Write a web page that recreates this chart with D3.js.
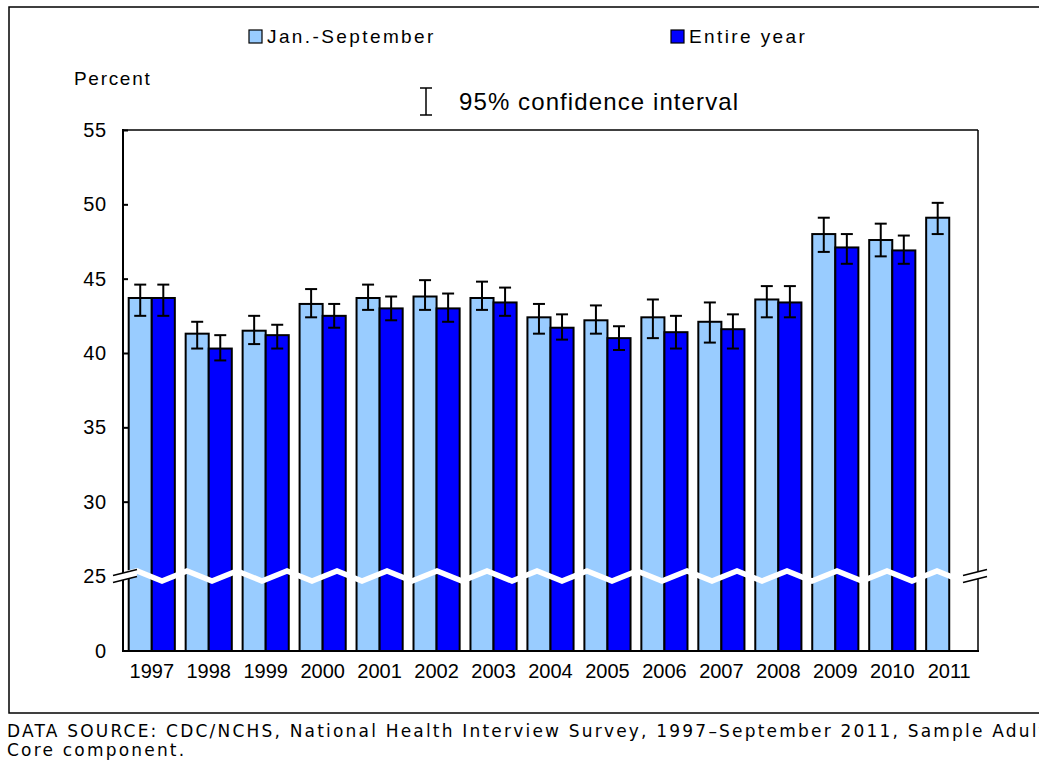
<!DOCTYPE html>
<html>
<head>
<meta charset="utf-8">
<script src="https://cdn.jsdelivr.net/npm/d3@7"></script>
<style>
  body { margin: 0; background: #fff; }
  text { font-family: "Liberation Sans", Arial, sans-serif; fill: #000; }
</style>
</head>
<body>
<div id="chart"></div>
<script>
// values
var years = ["1997","1998","1999","2000","2001","2002","2003","2004","2005","2006","2007","2008","2009","2010","2011"];
var janSep     = [43.7, 41.3, 41.5, 43.3, 43.7, 43.8, 43.7, 42.4, 42.2, 42.4, 42.1, 43.6, 48.0, 47.6, 49.1];
var janSepLo   = [42.5, 40.3, 40.6, 42.4, 42.9, 42.9, 42.9, 41.3, 41.3, 41.0, 40.7, 42.4, 46.8, 46.5, 48.0];
var janSepHi   = [44.6, 42.1, 42.5, 44.3, 44.6, 44.9, 44.8, 43.3, 43.2, 43.6, 43.4, 44.5, 49.1, 48.7, 50.1];
var fullYear   = [43.7, 40.3, 41.2, 42.5, 43.0, 43.0, 43.4, 41.7, 41.0, 41.4, 41.6, 43.4, 47.1, 46.9, null];
var fullYearLo = [42.5, 39.5, 40.3, 41.7, 42.2, 42.1, 42.5, 40.9, 40.2, 40.3, 40.3, 42.4, 46.0, 46.0, null];
var fullYearHi = [44.6, 41.2, 41.9, 43.3, 43.8, 44.0, 44.4, 42.6, 41.8, 42.5, 42.6, 44.5, 48.0, 47.9, null];
var yTicks = [0, 25, 30, 35, 40, 45, 50, 55];
var seriesNames = ["Jan.-September", "Entire year"];
var seriesColors = ["#99ccff", "#0000ff"];

var width = 1039, height = 763;
var pLeft = 123, pRight = 978, pTop = 130, pBottom = 651;

var svg = d3.select("#chart").append("svg").attr("width", width).attr("height", height);

// outer frame
svg.append("rect")
    .attr("x", 9).attr("y", 7)
    .attr("width", 1045).attr("height", 706)
    .style("fill", "none").style("stroke", "#000").style("stroke-width", 1.5);

// broken axis: 0..25 squeezed into one tick step
var y = d3.scaleLinear().domain([0, 25, 55]).range([pBottom, 576, pTop]);
var x = d3.scaleBand().domain(years).range([pLeft, pRight]).paddingInner(0.19).paddingOuter(0.1);
var xs = d3.scaleBand().domain([0, 1]).range([0, x.bandwidth()]);

var rows = years.map(function(yr, i) {
    return [
        {year: yr, s: 0, v: janSep[i], lo: janSepLo[i], hi: janSepHi[i]},
        {year: yr, s: 1, v: fullYear[i], lo: fullYearLo[i], hi: fullYearHi[i]}
    ];
});
var flat = d3.merge(rows).filter(function(d) { return d.v != null; });

var plot = svg.append("g").attr("class", "plot");

plot.selectAll("rect.bar")
    .data(flat)
    .enter().append("rect")
        .attr("class", "bar")
        .attr("x", function(d) { return x(d.year) + xs(d.s); })
        .attr("y", function(d) { return y(d.v); })
        .attr("width", xs.bandwidth())
        .attr("height", function(d) { return y(0) - y(d.v); })
        .style("fill", function(d) { return seriesColors[d.s]; })
        .style("stroke", "#000")
        .style("stroke-width", 2);

// white zigzag where the axis breaks
var zy = y(25);
var zig = d3.range(pLeft + 4, pRight - 4, 25).map(function(px, i) {
    return [px + 10, zy + (i % 2 == 0 ? -5 : 5)];
});
zig.unshift([pLeft + 2, zy - 2]);
plot.append("path")
    .attr("d", d3.line()(zig))
    .style("fill", "none")
    .style("stroke", "#fff")
    .style("stroke-width", 5.5);

// error bars
var eb = plot.selectAll("g.err")
    .data(flat)
    .enter().append("g")
        .attr("class", "err")
        .attr("transform", function(d) { return "translate(" + (x(d.year) + xs(d.s) + xs.bandwidth() / 2) + ",0)"; });
eb.append("line")
    .attr("y1", function(d) { return y(d.lo); })
    .attr("y2", function(d) { return y(d.hi); });
eb.append("line")
    .attr("x1", -6).attr("x2", 6)
    .attr("y1", function(d) { return y(d.lo); })
    .attr("y2", function(d) { return y(d.lo); });
eb.append("line")
    .attr("x1", -6).attr("x2", 6)
    .attr("y1", function(d) { return y(d.hi); })
    .attr("y2", function(d) { return y(d.hi); });
eb.selectAll("line").style("stroke", "#000").style("stroke-width", 2);

// plot box
svg.append("line").attr("x1", pLeft).attr("x2", pRight).attr("y1", pTop).attr("y2", pTop)
    .style("stroke", "#000").style("stroke-width", 1.5);
svg.append("line").attr("x1", pRight).attr("x2", pRight).attr("y1", pTop).attr("y2", pBottom)
    .style("stroke", "#000").style("stroke-width", 1.5);

// y axis, ticks pointing inward
var yAxis = svg.append("g")
    .attr("transform", "translate(" + pLeft + ",0)")
    .call(d3.axisRight(y).tickValues(yTicks.filter(function(t) { return t > 25; })).tickSize(5).tickFormat(""));
yAxis.select(".domain").remove();
yAxis.selectAll("line").style("stroke", "#000").style("stroke-width", 2);
svg.append("line").attr("x1", pLeft).attr("x2", pLeft).attr("y1", pTop - 1).attr("y2", pBottom + 1)
    .style("stroke", "#000").style("stroke-width", 2);

svg.selectAll("text.ytick")
    .data(yTicks)
    .enter().append("text")
        .attr("class", "ytick")
        .attr("x", 107)
        .attr("y", function(d) { return y(d) + 7; })
        .attr("text-anchor", "end")
        .style("font-size", "20px")
        .style("letter-spacing", "0.8px")
        .text(function(d) { return d; });

// x axis
svg.append("line").attr("x1", pLeft - 1).attr("x2", pRight + 1).attr("y1", pBottom).attr("y2", pBottom)
    .style("stroke", "#000").style("stroke-width", 2);
svg.selectAll("text.xtick")
    .data(years)
    .enter().append("text")
        .attr("class", "xtick")
        .attr("x", function(d) { return x(d) + x.bandwidth() / 2; })
        .attr("y", 678)
        .attr("text-anchor", "middle")
        .style("font-size", "20px")
        .text(function(d) { return d; });

// break marks on both axes
[pLeft + 2, pRight - 3].forEach(function(cx) {
    var g = svg.append("g").attr("transform", "translate(" + cx + "," + zy + ")");
    g.append("path").attr("d", "M-12,-0.5 L12,-6.5 L12,0.5 L-12,6.5 Z").style("fill", "#fff");
    g.append("line").attr("x1", -12).attr("y1", -0.5).attr("x2", 12).attr("y2", -6.5)
        .style("stroke", "#000").style("stroke-width", 1.5);
    g.append("line").attr("x1", -12).attr("y1", 6.5).attr("x2", 12).attr("y2", 0.5)
        .style("stroke", "#000").style("stroke-width", 1.5);
});

// legend
var legX = [249, 671];
seriesNames.forEach(function(name, i) {
    svg.append("rect")
        .attr("x", legX[i]).attr("y", 30)
        .attr("width", 13).attr("height", 13)
        .style("fill", seriesColors[i]).style("stroke", "#000").style("stroke-width", 1.2);
    svg.append("text")
        .attr("x", legX[i] + 18).attr("y", 43)
        .style("font-size", "19px")
        .style("letter-spacing", "2.4px")
        .text(name);
});

svg.append("text").attr("x", 74).attr("y", 85)
    .style("font-size", "19px").style("letter-spacing", "1.7px")
    .text("Percent");

// confidence interval key
var ci = svg.append("g").attr("transform", "translate(426,0)");
ci.append("line").attr("y1", 88).attr("y2", 115);
ci.append("line").attr("x1", -6).attr("x2", 6).attr("y1", 88).attr("y2", 88);
ci.append("line").attr("x1", -6).attr("x2", 6).attr("y1", 115).attr("y2", 115);
ci.selectAll("line").style("stroke", "#000").style("stroke-width", 1.5);
svg.append("text").attr("x", 459).attr("y", 110)
    .style("font-size", "24px").style("letter-spacing", "1.1px")
    .text("95% confidence interval");

// source note
var note = svg.append("text")
    .style("font-family", "'DejaVu Sans', Verdana, sans-serif")
    .style("font-size", "17px")
    .style("letter-spacing", "2.2px");
note.append("tspan").attr("x", 7).attr("y", 737)
    .text("DATA SOURCE: CDC/NCHS, National Health Interview Survey, 1997\u2013September 2011, Sample Adult");
note.append("tspan").attr("x", 7).attr("y", 756)
    .text("Core component.");
</script>
</body>
</html>
